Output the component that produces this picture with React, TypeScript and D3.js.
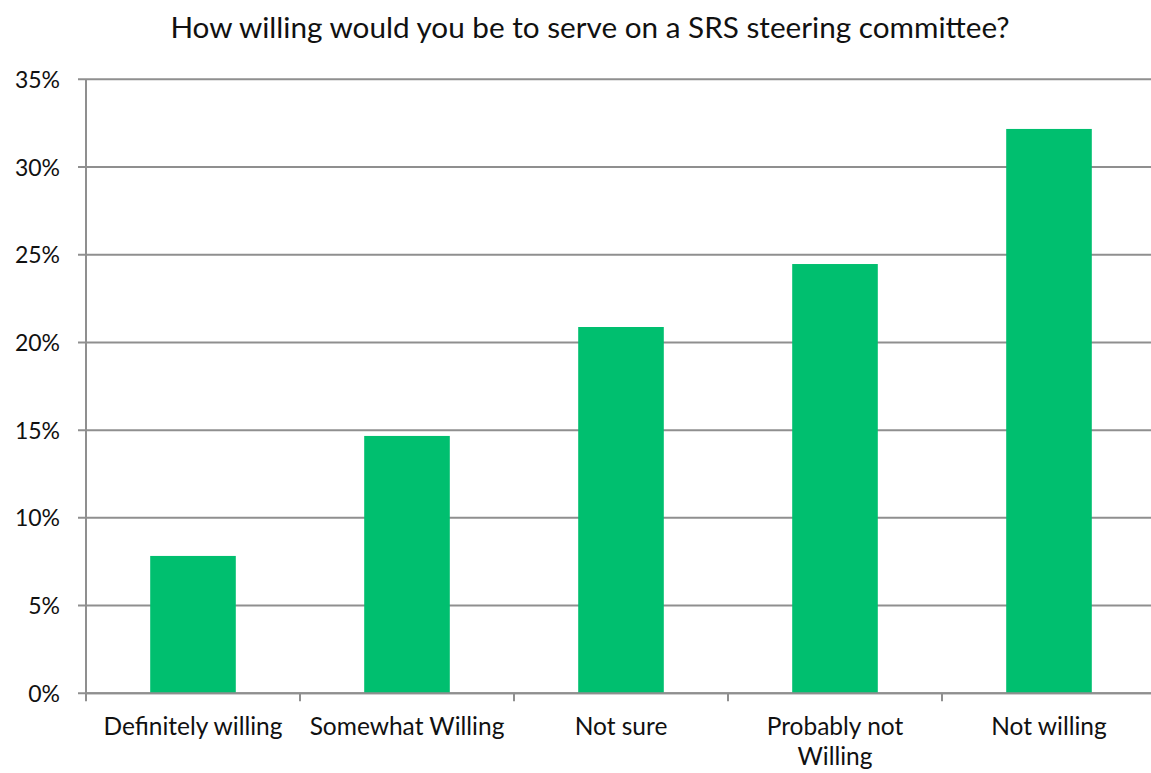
import React from "react";
import * as d3 from "d3";

const title = "How willing would you be to serve on a SRS steering committee?";
const categories = ["Definitely willing", "Somewhat Willing", "Not sure", "Probably not Willing", "Not willing"];
const labelLines = [["Definitely willing"], ["Somewhat Willing"], ["Not sure"], ["Probably not", "Willing"], ["Not willing"]];
const values = [7.83, 14.67, 20.88, 24.47, 32.17];
const yTicks = [0, 5, 10, 15, 20, 25, 30, 35];

const W = 1151, H = 773;
const left = 86, right = 1156, top = 79.3, bottom = 693.3;
const font = "Lato, 'Open Sans', sans-serif";

export default function App() {
  const x = d3.scaleBand<string>().domain(categories).range([left, right]).paddingInner(0).paddingOuter(0);
  const y = d3.scaleLinear().domain([0, 35]).range([bottom, top]);
  const bw = x.bandwidth();
  const barW = bw * 0.4;
  const grid = "#8f8f8f";
  return (
    <svg width={W} height={H} style={{ position: "absolute", left: 0, top: 0, background: "#fff" }}>
      <text x={590} y={38} textAnchor="middle" fontFamily={font} fontSize={29.7} fill="#111">{title}</text>
      {yTicks.map(t => (
        <g key={t}>
          <line x1={left - 8} x2={right} y1={y(t)} y2={y(t)} stroke={grid} strokeWidth={2} />
          <text x={60} y={y(t) + 8.5} textAnchor="end" fontFamily={font} fontSize={23} fill="#111">{t}%</text>
        </g>
      ))}
      <line x1={left} x2={left} y1={top} y2={bottom + 8} stroke={grid} strokeWidth={2} />
      {categories.map((c, i) => (
        <line key={"t" + c} x1={(x(c) as number) + bw} x2={(x(c) as number) + bw} y1={bottom} y2={bottom + 8} stroke={grid} strokeWidth={2} />
      ))}
      {categories.map((c, i) => (
        <rect key={c} x={(x(c) as number) + (bw - barW) / 2} y={y(values[i])} width={barW} height={bottom - y(values[i])} fill="#00BF6F" />
      ))}
      <line x1={left} x2={right} y1={bottom} y2={bottom} stroke={grid} strokeWidth={2} />
      {categories.map((c, i) => (
        <text key={"l" + c} x={(x(c) as number) + bw / 2} y={735} textAnchor="middle" fontFamily={font} fontSize={24.5} fill="#111">
          {labelLines[i].map((ln, j) => (
            <tspan key={j} x={(x(c) as number) + bw / 2} dy={j === 0 ? 0 : 30}>{ln}</tspan>
          ))}
        </text>
      ))}
    </svg>
  );
}
